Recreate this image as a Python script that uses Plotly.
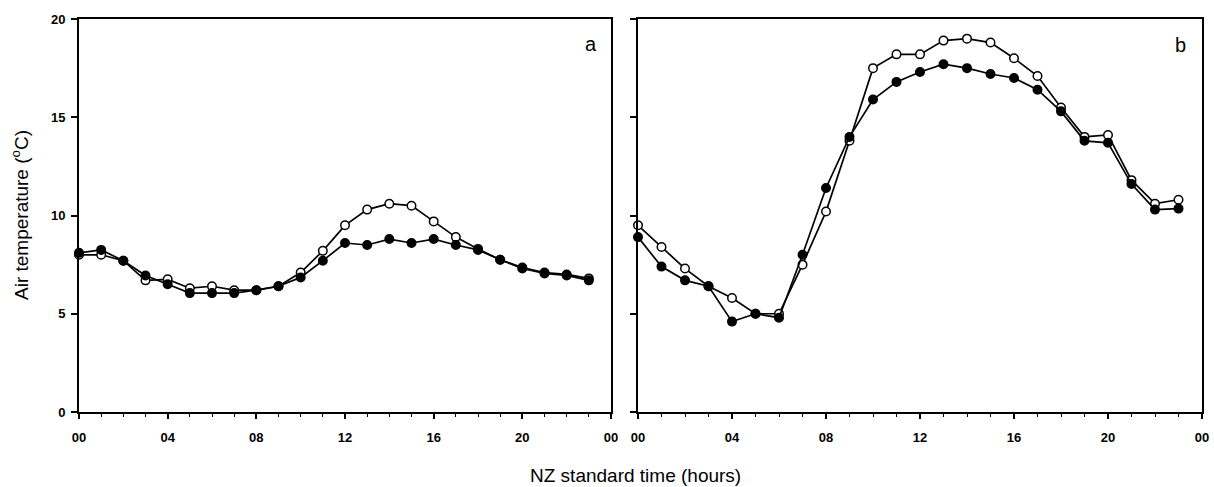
import plotly.graph_objects as go

hours = list(range(24))

a_open = [8.0, 8.0, 7.7, 6.7, 6.75, 6.3, 6.4, 6.2, 6.2, 6.4, 7.1, 8.2,
          9.5, 10.3, 10.6, 10.5, 9.7, 8.9, 8.3, 7.75, 7.35, 7.1, 7.0, 6.8]
a_filled = [8.1, 8.25, 7.7, 6.95, 6.5, 6.05, 6.05, 6.05, 6.2, 6.4, 6.85, 7.7,
            8.6, 8.5, 8.8, 8.6, 8.8, 8.5, 8.25, 7.75, 7.3, 7.05, 6.95, 6.7]

b_open = [9.5, 8.4, 7.3, 6.4, 5.8, 5.0, 5.0, 7.5, 10.2, 13.8, 17.5, 18.2,
          18.2, 18.9, 19.0, 18.8, 18.0, 17.1, 15.5, 14.0, 14.1, 11.8, 10.6, 10.8]
b_filled = [8.9, 7.4, 6.7, 6.4, 4.6, 5.0, 4.8, 8.0, 11.4, 14.0, 15.9, 16.8,
            17.3, 17.7, 17.5, 17.2, 17.0, 16.4, 15.3, 13.8, 13.7, 11.6, 10.3, 10.35]

x_tickvals = [0, 4, 8, 12, 16, 20, 24]
x_ticktext = ["00", "04", "08", "12", "16", "20", "00"]
y_tickvals = [0, 5, 10, 15, 20]
panel_labels = ["a", "b"]

fig = go.Figure()

def add_series(x, y, xa, ya, filled):
    fig.add_trace(go.Scatter(
        x=x, y=y, xaxis=xa, yaxis=ya, mode="lines+markers",
        line=dict(color="black", width=1.7),
        marker=dict(size=8.5, color="black" if filled else "white",
                    line=dict(color="black", width=1.5)),
        cliponaxis=False, showlegend=False, hoverinfo="x+y"))

add_series(hours, a_open, "x", "y", False)
add_series(hours, a_filled, "x", "y", True)
add_series(hours, b_open, "x2", "y2", False)
add_series(hours, b_filled, "x2", "y2", True)

W, H = 1214, 487
ytop, ybot = 19, 412
ydom = [(H - ybot) / H, (H - ytop) / H]

FONT = "Liberation Sans, Arial, sans-serif"
tickfont = dict(family=FONT, size=13, color="black", weight="bold")

xcommon = dict(range=[0, 24], tickvals=x_tickvals, ticktext=x_ticktext,
               ticks="outside", ticklen=5, tickwidth=1.5, tickcolor="black",
               showline=True, linecolor="black", linewidth=1.7, mirror=True,
               showgrid=False, zeroline=False, tickfont=tickfont,
               automargin=False, ticklabelstandoff=8,
               minor=dict(dtick=1, tick0=0, ticks="outside", ticklen=3,
                          tickwidth=1.2, tickcolor="black", showgrid=False))
ycommon = dict(range=[0, 20], tickvals=y_tickvals, ticks="outside", ticklen=6,
               tickwidth=1.5, tickcolor="black", showline=True, linecolor="black",
               linewidth=1.7, mirror=True, showgrid=False, zeroline=False,
               tickfont=tickfont, automargin=False, ticklabelstandoff=3)

fig.update_layout(
    width=W, height=H,
    margin=dict(l=0, r=0, t=0, b=0),
    paper_bgcolor="white", plot_bgcolor="white",
    xaxis=dict(domain=[79 / W, 611 / W], anchor="y", **xcommon),
    yaxis=dict(domain=ydom, anchor="x", **ycommon),
    xaxis2=dict(domain=[638 / W, 1202 / W], anchor="y2", **xcommon),
    yaxis2=dict(domain=ydom, anchor="x2", showticklabels=False, **ycommon),
)

fig.add_annotation(text="Air temperature (<sup>o</sup>C)", xref="paper", yref="paper",
                   x=20 / W, y=(H - 215) / H, textangle=-90, showarrow=False,
                   xanchor="center", yanchor="middle",
                   font=dict(family=FONT, size=19, color="black"))
fig.add_annotation(text="NZ standard time (hours)", xref="paper", yref="paper",
                   x=635 / W, y=(H - 475) / H, showarrow=False,
                   xanchor="center", yanchor="middle",
                   font=dict(family=FONT, size=19, color="black"))

fig.add_annotation(text=panel_labels[0], xref="paper", yref="paper",
                   x=591 / W, y=(H - 44) / H, showarrow=False,
                   xanchor="center", yanchor="middle",
                   font=dict(family=FONT, size=20, color="black"))
fig.add_annotation(text=panel_labels[1], xref="paper", yref="paper",
                   x=1180 / W, y=(H - 45) / H, showarrow=False,
                   xanchor="center", yanchor="middle",
                   font=dict(family=FONT, size=20, color="black"))

fig.write_html("out.html")
